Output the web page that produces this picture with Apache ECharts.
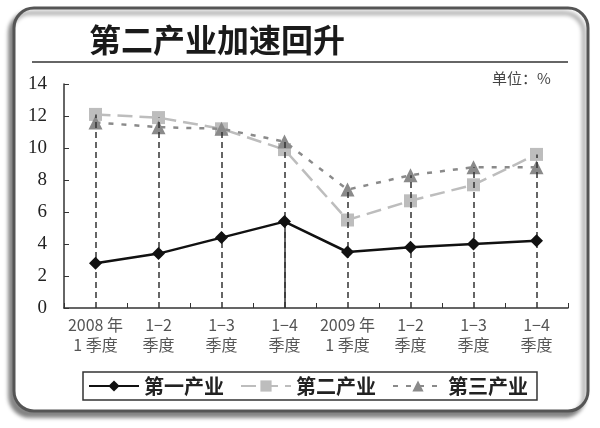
<!DOCTYPE html>
<html>
<head>
<meta charset="utf-8">
<script src="https://cdn.jsdelivr.net/npm/echarts@6/dist/echarts.min.js"></script>
<style>
html,body{margin:0;padding:0;background:#fff;}
#main{width:600px;height:428px;}
</style>
</head>
<body>
<div id="main"></div>
<script>
// 类目与数据（单位：%）
var categories = ['2008 年\n1 季度', '1−2\n季度', '1−3\n季度', '1−4\n季度', '2009 年\n1 季度', '1−2\n季度', '1−3\n季度', '1−4\n季度'];
var primary = [2.8, 3.4, 4.4, 5.4, 3.5, 3.8, 4.0, 4.2];
var secondary = [12.1, 11.9, 11.2, 9.9, 5.5, 6.7, 7.7, 9.6];
var tertiary = [11.6, 11.3, 11.2, 10.4, 7.4, 8.3, 8.8, 8.8];
var seriesNames = ['第一产业', '第二产业', '第三产业'];
var yTicks = [0, 2, 4, 6, 8, 10, 12, 14];

var cjk = '"Noto Sans CJK SC", sans-serif';
var myChart = echarts.init(document.getElementById('main'));

//垂直虚线：从横轴到最高点
var dropLines = [];
for (var i = 0; i < categories.length; i++) {
	var peak = Math.max(primary[i], secondary[i], tertiary[i]);
	dropLines.push([{ coord: [i, 0] }, { coord: [i, peak] }]);
}

var option = {
	animation: false,
	backgroundColor: '#fff',
	graphic: [
		{
			type: 'rect',
			shape: { x: 14, y: 8, width: 574, height: 403, r: 20 },
			style: {
				fill: '#fff', stroke: '#555', lineWidth: 3,
				shadowColor: 'rgba(0,0,0,0.45)', shadowBlur: 4, shadowOffsetX: -4, shadowOffsetY: 5
			},
			z: -10
		},
		{
			type: 'line',
			shape: { x1: 32, y1: 62, x2: 568, y2: 62 },
			style: { stroke: '#666', lineWidth: 2 }
		},
		{
			type: 'text',
			left: 89, top: 24,
			style: { text: '第二产业加速回升', font: 'bold 32px ' + cjk, fill: '#1a1a1a' }
		},
		{
			type: 'text',
			left: 492, top: 71,
			style: { text: '单位：%', font: '15px ' + cjk, fill: '#444' }
		}
	],
	legend: {
		left: 83,
		top: 372,
		padding: [4, 9, 4, 5],
		itemGap: 16,
		itemWidth: 50,
		itemHeight: 14,
		borderColor: '#333',
		borderWidth: 1.5,
		borderRadius: 0,
		textStyle: { fontFamily: cjk, fontSize: 20, fontWeight: 'bold', color: '#222' },
		data: seriesNames
	},
	grid: {
		left: 64,
		right: 32,
		top: 84,
		bottom: 120
	},
	xAxis: {
		type: 'category',
		data: categories,
		boundaryGap: true,
		axisLine: { lineStyle: { color: '#333', width: 1.5 } },
		axisTick: { show: true, inside: true, length: 5, lineStyle: { color: '#333' } },
		axisLabel: { fontFamily: cjk, fontSize: 16, color: '#555', lineHeight: 20, margin: 7, interval: 0 }
	},
	yAxis: {
		type: 'value',
		min: yTicks[0],
		max: yTicks[yTicks.length - 1],
		interval: 2,
		splitLine: { show: false },
		axisLine: { show: true, lineStyle: { color: '#333', width: 1.5 } },
		axisTick: { show: true, inside: true, length: 5, lineStyle: { color: '#333' } },
		axisLabel: { fontFamily: '"Liberation Serif", serif', fontSize: 19, color: '#222', margin: 17 }
	},
	series: [
		{
			name: seriesNames[0],
			type: 'line',
			data: primary,
			symbol: 'diamond',
			symbolSize: 13,
			z: 5,
			itemStyle: { color: '#111' },
			lineStyle: { color: '#111', width: 2.5 },
			markLine: {
				silent: true,
				symbol: 'none',
				label: { show: false },
				lineStyle: { color: '#333', width: 1.5, type: 'solid' },
				data: [[{ coord: [3, 0] }, { coord: [3, primary[3]] }]]
			}
		},
		{
			name: seriesNames[1],
			type: 'line',
			data: secondary,
			symbol: 'rect',
			symbolSize: 13,
			z: 3,
			itemStyle: { color: '#bdbdbd' },
			lineStyle: { color: '#bdbdbd', width: 2.5, type: [15, 7] }
		},
		{
			name: seriesNames[2],
			type: 'line',
			data: tertiary,
			symbol: 'triangle',
			symbolSize: 14,
			z: 4,
			itemStyle: { color: '#8a8a8a' },
			lineStyle: { color: '#8a8a8a', width: 2.5, type: [5, 8] },
			markLine: {
				silent: true,
				symbol: 'none',
				label: { show: false },
				lineStyle: { color: '#333', width: 1.5, type: [6, 4] },
				data: dropLines
			}
		}
	]
};

myChart.setOption(option);
</script>
</body>
</html>
